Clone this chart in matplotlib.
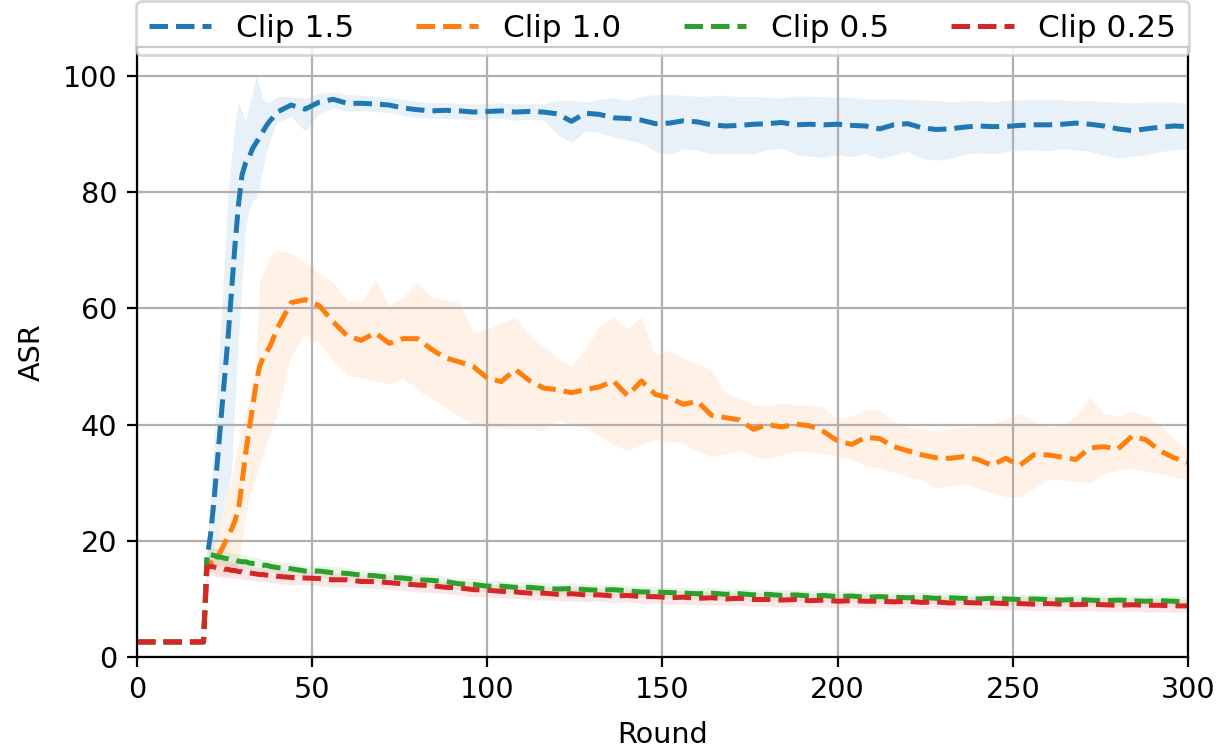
import matplotlib
matplotlib.use('Agg')
from matplotlib import pyplot as plt

plt.rcParams['font.size'] = 10.3

rounds = [0, 19] + list(range(20, 40)) + list(range(40, 301, 4))

clip15_mean = [2.6, 2.6,
               17, 21, 27, 34, 41, 48, 55, 63, 71, 78,
               83, 85, 86, 87.5, 88.5, 89.5, 90.5, 91.5, 92.3, 93,
               93.8, 95, 94.3, 95.5, 96, 95.3, 95.3, 95.2, 95, 94.5,
               94.2, 94, 94.1, 94, 93.8, 93.9, 94, 93.8, 93.9, 93.8,
               93.5, 92.2, 93.6, 93.4, 92.8, 92.7, 92.4, 91.8, 91.9, 92.3,
               92.1, 91.6, 91.4, 91.5, 91.7, 91.8, 92, 91.6, 91.7, 91.6,
               91.7, 91.5, 91.4, 90.9, 91.6, 91.8, 91.1, 90.8, 90.9, 91.2,
               91.4, 91.3, 91.3, 91.5, 91.6, 91.6, 91.7, 91.9, 91.7, 91.4,
               90.9, 90.6, 90.9, 91.2, 91.4, 91.3]
clip15_hi = [2.6, 2.6,
             18, 28, 38, 48, 58, 68, 80, 86, 92, 95.5,
             94, 92, 95, 97, 100, 98, 96, 95.5, 95.5, 96,
             96.5, 96.5, 96.2, 97, 97.3, 96.8, 96.7, 96.5, 96.3, 96,
             95.6, 95.4, 95.4, 95.3, 95.2, 95.3, 95.4, 95.2, 95.3, 95.2,
             95.8, 95.9, 95.5, 96, 96.3, 95.8, 96.5, 96.8, 96.8, 96.7,
             96.5, 96.6, 96.7, 96.4, 96.5, 96.3, 96.2, 96.6, 96.5, 96.4,
             96.4, 96.3, 96.1, 96, 96.1, 96, 95.9, 95.8, 95.6, 95.7,
             95.8, 95.6, 95.8, 95.9, 96, 96, 95.9, 95.7, 95.8, 95.6,
             95.5, 95.4, 95.5, 95.5, 95.5, 95.3]
clip15_lo = [2.6, 2.6,
             16, 17, 19, 21, 24, 27, 29, 32, 44, 55,
             65, 74, 77, 78.5, 79, 81, 84, 87, 89, 90.5,
             92, 93, 90.5, 93.5, 94.5, 94, 94, 93.9, 93.7, 93.2,
             92.8, 92.7, 92.7, 92.6, 92.5, 92.6, 92.7, 92.4, 92.6, 92.4,
             90, 88.5, 90.5, 90.3, 89.5, 89, 88.5, 87, 86.5, 87.5,
             87.2, 86.6, 86.6, 86.6, 86.6, 87.3, 87.6, 86.5, 86.2, 86,
             86.5, 86.1, 86.7, 85.8, 86.4, 87, 85.8, 85.5, 85.8, 86.5,
             86.8, 86.6, 87, 87.3, 87.3, 87.1, 87.5, 87.3, 87, 86.4,
             85.9, 86.2, 86.5, 87, 87.3, 87.5]

clip10_mean = [2.6, 2.6,
               16, 16.2, 16.5, 17.3, 18.3, 19.5, 20.8, 22, 23.5, 25.5,
               30, 35, 39, 43, 47, 50, 51.5, 52.5, 53.5, 55,
               56.5, 61, 61.5, 60.5, 57.7, 55.3, 54.5, 55.8, 54, 54.8,
               54.8, 53, 51.5, 50.8, 50, 48, 47.4, 49.5, 47.6, 46.3,
               46, 45.5, 46, 46.5, 47.5, 45, 47.5, 45.2, 44.6, 43.5,
               44, 41.6, 41.2, 40.8, 39.2, 40, 39.6, 40.1, 39.8, 38.8,
               37.2, 36.6, 37.8, 37.6, 36.2, 35.5, 34.8, 34.3, 34.2, 34.5,
               34, 33, 34.2, 33, 34.8, 34.8, 34.4, 34, 36, 36.2,
               35.8, 38, 37.4, 35.5, 34.3, 33.5]
clip10_hi = [2.6, 2.6,
             17, 18, 19.5, 21.5, 24, 26.5, 29, 31, 34, 37,
             39.5, 42, 44, 47, 50, 65, 66, 67.5, 69, 69.5,
             70, 69.5, 68, 66, 64.5, 61.5, 61, 65, 60.5, 62,
             64.5, 62, 61.5, 61, 56, 56.5, 57.5, 58.5, 55.5, 53.5,
             51.5, 50, 53, 57, 58.5, 56.5, 58.5, 52, 52.8, 51.5,
             50.5, 49.5, 45.5, 44.5, 43.5, 43.2, 43.7, 43.5, 43.5, 43,
             41, 41.5, 42.5, 42.5, 40.5, 39.6, 39.2, 39, 39.3, 39.6,
             39.8, 40.2, 41, 41.9, 40.5, 39.6, 40, 41.5, 44.8, 42,
             41.5, 42.3, 41.5, 40, 37.5, 35.6]
clip10_lo = [2.6, 2.6,
             14.5, 14.5, 14.5, 14.3, 14, 14, 14, 14, 14.5, 16,
             20, 24, 27, 29, 31, 33, 35, 37, 38.5, 40,
             42, 52, 55.5, 54, 51, 48.5, 48, 47.5, 47, 48,
             46, 44.5, 43, 41.4, 40, 39.6, 39.4, 39.2, 39.3, 39,
             40.8, 40, 39.5, 38, 36.5, 35.6, 36.5, 37.4, 37, 36.7,
             35.5, 34.5, 35, 35.6, 34.5, 34, 34.8, 35.4, 35.3, 35,
             34.5, 34, 33, 32.5, 31.8, 31, 30.5, 29, 29.5, 29.8,
             29, 28.3, 27.6, 27.6, 29, 30.5, 30.5, 30.2, 30, 31.5,
             32.2, 32.5, 32, 31.5, 31, 30.5]

clip05_mean = [2.6, 2.6,
               17.8, 17.6, 17.5, 17.2, 17.2, 17.0, 16.9, 16.7, 16.7, 16.5,
               16.4, 16.4, 16.2, 16.1, 16.1, 15.9, 15.8, 15.8, 15.6, 15.5,
               15.4, 15.2, 14.8, 14.8, 14.5, 14.4, 14.1, 14.0, 13.7, 13.6,
               13.3, 13.2, 13.0, 12.6, 12.5, 12.2, 12.2, 12.0, 12.0, 11.8,
               11.7, 11.8, 11.6, 11.5, 11.6, 11.4, 11.2, 11.2, 11.1, 11.0,
               10.9, 11.0, 10.8, 10.9, 10.7, 10.8, 10.6, 10.7, 10.5, 10.6,
               10.4, 10.5, 10.3, 10.4, 10.3, 10.2, 10.3, 10.1, 10.2, 10.1,
               10.0, 10.1, 10.0, 9.9, 10.0, 9.9, 9.8, 9.9, 9.8, 9.7,
               9.8, 9.7, 9.6, 9.7, 9.6, 9.5]
clip05_spread = [0, 0,
                 0.6, 1.0, 1.3, 1.4, 1.4, 1.3, 1.3, 1.3, 1.2, 1.2,
                 1.2, 1.2, 1.1, 1.1, 1.1, 1.1, 1.0, 1.0, 1.0, 1.0,
                 1.0, 1.1, 0.9, 1.0, 1.1, 1.0, 0.9, 1.0, 1.0, 0.9,
                 1.0, 1.0, 0.9, 1.0, 1.1, 0.9, 1.0, 0.9, 1.0, 1.0,
                 0.9, 1.0, 1.0, 0.9, 1.0, 0.9, 1.0, 1.0, 0.9, 1.0,
                 0.9, 1.0, 0.9, 0.9, 1.0, 0.9, 1.0, 0.9, 0.9, 1.0,
                 0.9, 0.9, 1.0, 0.9, 0.9, 1.0, 0.9, 0.9, 1.0, 0.9,
                 0.9, 1.0, 0.9, 0.9, 0.9, 1.0, 0.9, 0.9, 0.9, 1.0,
                 0.9, 0.9, 1.0, 0.9, 0.9, 0.9]

clip025_mean = [2.6, 2.6,
                15.5, 15.6, 15.5, 15.3, 15.3, 15.1, 15.1, 14.9, 14.9, 14.7,
                14.7, 14.5, 14.5, 14.4, 14.3, 14.2, 14.2, 14.1, 14.0, 14.0,
                13.9, 13.7, 13.6, 13.5, 13.3, 13.3, 13.0, 13.0, 12.8, 12.6,
                12.4, 12.3, 12.0, 11.9, 11.6, 11.5, 11.3, 11.2, 11.0, 11.0,
                10.8, 10.9, 10.7, 10.7, 10.5, 10.6, 10.4, 10.4, 10.2, 10.3,
                10.1, 10.2, 10.0, 10.1, 9.9, 9.9, 9.8, 9.9, 9.7, 9.8,
                9.6, 9.7, 9.6, 9.6, 9.5, 9.6, 9.4, 9.5, 9.3, 9.4,
                9.3, 9.3, 9.2, 9.2, 9.1, 9.2, 9.1, 9.0, 9.1, 9.0,
                8.9, 9.0, 8.9, 8.9, 8.8, 8.8]
clip025_spread = [0, 0,
                  0.8, 1.2, 1.5, 1.5, 1.5, 1.4, 1.4, 1.4, 1.3, 1.3,
                  1.3, 1.3, 1.3, 1.2, 1.2, 1.2, 1.2, 1.2, 1.2, 1.2,
                  1.2, 1.3, 1.1, 1.2, 1.3, 1.2, 1.1, 1.2, 1.2, 1.1,
                  1.2, 1.2, 1.1, 1.2, 1.3, 1.1, 1.2, 1.1, 1.2, 1.2,
                  1.1, 1.2, 1.2, 1.1, 1.2, 1.1, 1.2, 1.2, 1.1, 1.2,
                  1.1, 1.2, 1.1, 1.1, 1.2, 1.1, 1.2, 1.1, 1.1, 1.2,
                  1.1, 1.1, 1.2, 1.1, 1.1, 1.2, 1.1, 1.1, 1.2, 1.1,
                  1.1, 1.2, 1.1, 1.1, 1.1, 1.2, 1.1, 1.1, 1.1, 1.2,
                  1.1, 1.1, 1.2, 1.1, 1.1, 1.1]

labels = ['Clip 1.5', 'Clip 1.0', 'Clip 0.5', 'Clip 0.25']
colors = ['tab:blue', 'tab:orange', 'tab:green', 'tab:red']

fig = plt.figure(figsize=(6.13, 3.77), dpi=200)
ax = fig.add_axes([0.1117, 0.1286, 0.8573, 0.8091])

bands = [
    (clip15_mean, clip15_lo, clip15_hi),
    (clip10_mean, clip10_lo, clip10_hi),
    (clip05_mean,
     [m - s for m, s in zip(clip05_mean, clip05_spread)],
     [m + s for m, s in zip(clip05_mean, clip05_spread)]),
    (clip025_mean,
     [m - s for m, s in zip(clip025_mean, clip025_spread)],
     [m + s for m, s in zip(clip025_mean, clip025_spread)]),
]

for (mean, lo, hi), lab, col in zip(bands, labels, colors):
    ax.fill_between(rounds, lo, hi, color=col, alpha=0.1, linewidth=0)
    ax.plot(rounds, mean, '--', color=col, linewidth=1.8, label=lab)

ax.set_xlim(0, 300)
ax.set_ylim(0, 105)
ax.set_yticks([0, 20, 40, 60, 80, 100])
ax.set_xticks([0, 50, 100, 150, 200, 250, 300])
ax.grid(True)
ax.set_xlabel('Round', labelpad=6)
ax.set_ylabel('ASR', labelpad=6)
ax.legend(loc='upper center', bbox_to_anchor=(0.5, 1.075), ncol=4,
          borderaxespad=0, fontsize=11.2)

fig.savefig('out.png', dpi=200)
